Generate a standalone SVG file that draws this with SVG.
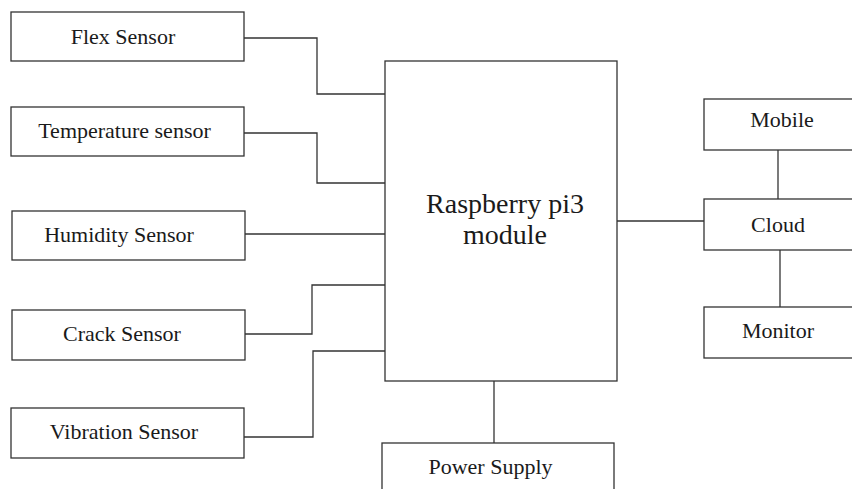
<svg xmlns="http://www.w3.org/2000/svg" width="852" height="489" viewBox="0 0 852 489">
<style>
.box{fill:#fff;stroke:#333;stroke-width:1.3}
.lbl{font-family:"Liberation Serif","Times New Roman",serif;font-size:22px;fill:#1a1a1a;text-anchor:middle}
.big{font-size:28px}
.wire{fill:none;stroke:#333;stroke-width:1.3}
</style>
<rect width="852" height="489" fill="#fff"/>
<g id="connectors">
<polyline class="wire" points="244,38 317,38 317,94 385,94"/>
<polyline class="wire" points="244,133 317,133 317,183 385,183"/>
<polyline class="wire" points="245,234 385,234"/>
<polyline class="wire" points="245,334 312,334 312,285 385,285"/>
<polyline class="wire" points="244,437 313,437 313,351 385,351"/>
<polyline class="wire" points="494,381 494,443"/>
<polyline class="wire" points="617,221 704,221"/>
<polyline class="wire" points="778,150 778,199"/>
<polyline class="wire" points="780,250 780,307"/>
</g>
<g id="flex"><rect class="box" x="11" y="12" width="233" height="49"/><text class="lbl" x="123" y="44">Flex Sensor</text></g>
<g id="temperature"><rect class="box" x="11" y="107" width="233" height="49"/><text class="lbl" x="124.5" y="138">Temperature sensor</text></g>
<g id="humidity"><rect class="box" x="12" y="211" width="233" height="49"/><text class="lbl" x="119" y="242">Humidity Sensor</text></g>
<g id="crack"><rect class="box" x="12" y="310" width="233" height="50"/><text class="lbl" x="122" y="341">Crack Sensor</text></g>
<g id="vibration"><rect class="box" x="11" y="408" width="233" height="50"/><text class="lbl" x="124" y="439">Vibration Sensor</text></g>
<g id="raspberry"><rect class="box" x="385" y="61" width="232" height="320"/><text class="lbl big" x="505" y="213">Raspberry pi3</text><text class="lbl big" x="505" y="244">module</text></g>
<g id="power"><rect class="box" x="382" y="443" width="232" height="60"/><text class="lbl" x="490.5" y="474">Power Supply</text></g>
<g id="mobile"><rect class="box" x="704" y="99" width="160" height="51"/><text class="lbl" x="782" y="127">Mobile</text></g>
<g id="cloud"><rect class="box" x="704" y="199" width="160" height="51"/><text class="lbl" x="778" y="232">Cloud</text></g>
<g id="monitor"><rect class="box" x="704" y="307" width="160" height="51"/><text class="lbl" x="778" y="338">Monitor</text></g>
</svg>
